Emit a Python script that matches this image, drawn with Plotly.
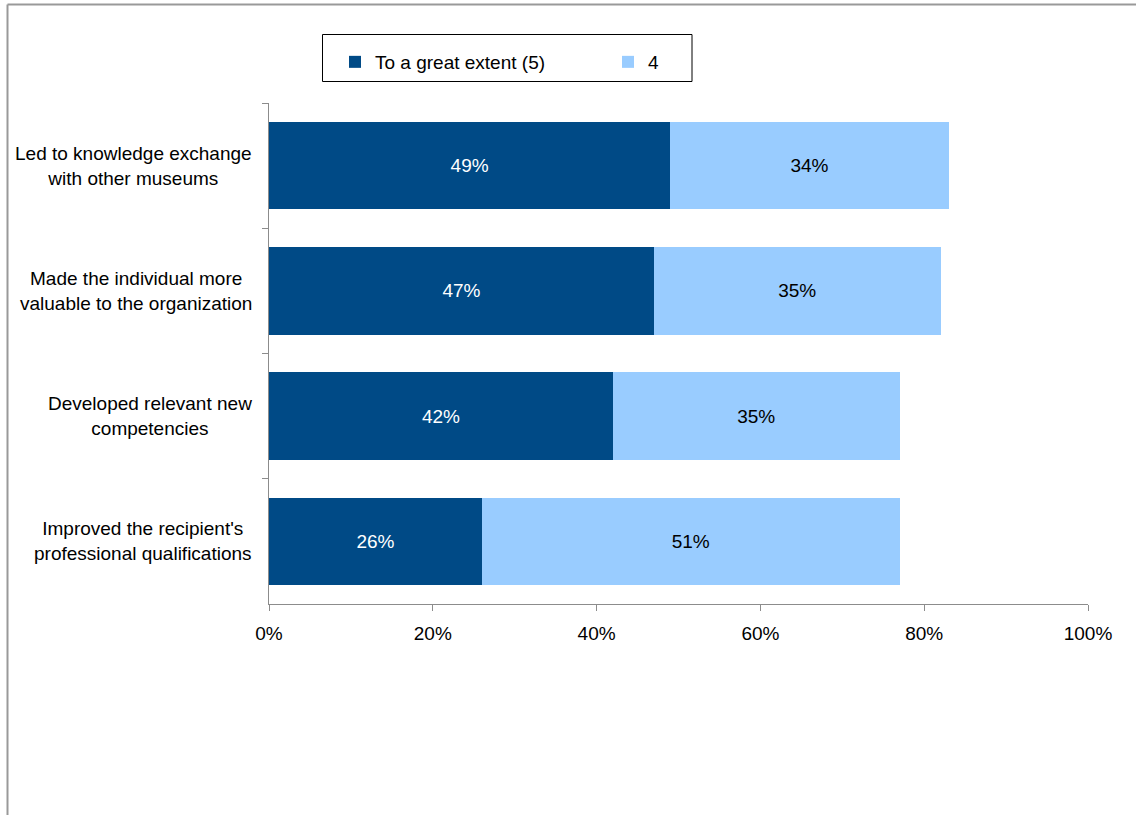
import plotly.graph_objects as go

# Survey items (top to bottom) and shares of respondents, in percent
categories = [
    "Led to knowledge exchange<br>with other museums",
    "Made the individual more<br>valuable to the organization",
    "Developed relevant new<br>competencies",
    "Improved the recipient's<br>professional qualifications",
]
great_extent = [49, 47, 42, 26]
level_four = [34, 35, 35, 51]
series_names = ["To a great extent (5)", "4"]
x_ticks = [0, 20, 40, 60, 80, 100]
x_tick_labels = ["0%", "20%", "40%", "60%", "80%", "100%"]

DARK = "#004A86"
LIGHT = "#99CCFF"
FONT = "Liberation Sans, Arial, sans-serif"

W, H = 1136, 815
L, R, T, B = 269, 48, 103, 211
PW, PH = W - L - R, H - T - B


def px_x(p):
    return (p - L) / PW


def px_y(p):
    return (H - B - p) / PH


fig = go.Figure()
fig.add_trace(go.Bar(
    y=categories, x=great_extent, orientation="h", name=series_names[0],
    marker=dict(color=DARK, line=dict(width=0)),
    text=[f"{v}%" for v in great_extent], textposition="inside",
    insidetextanchor="middle", textangle=0,
    textfont=dict(color="white", size=19, family=FONT),
))
fig.add_trace(go.Bar(
    y=categories, x=level_four, orientation="h", name=series_names[1],
    marker=dict(color=LIGHT, line=dict(width=0)),
    text=[f"{v}%" for v in level_four], textposition="inside",
    insidetextanchor="middle", textangle=0,
    textfont=dict(color="black", size=19, family=FONT),
))

# Category labels, centred line by line
annotations = [
    dict(x=px_x(254), y=c, xref="paper", yref="y", text=c, showarrow=False,
         xanchor="right", yanchor="middle", align="center",
         font=dict(size=19, family=FONT, color="black"))
    for c in categories
]

shapes = [
    # legend frame
    dict(type="rect", xref="paper", yref="paper",
         x0=px_x(322.5), x1=px_x(692), y0=px_y(81.5), y1=px_y(34.5),
         line=dict(color="black", width=1), fillcolor="rgba(0,0,0,0)"),
    # outer chart frame (top and left edges)
    dict(type="line", xref="paper", yref="paper",
         x0=px_x(7.5), x1=px_x(1140), y0=px_y(4.5), y1=px_y(4.5),
         line=dict(color="#999999", width=2)),
    dict(type="line", xref="paper", yref="paper",
         x0=px_x(7.5), x1=px_x(7.5), y0=px_y(4.5), y1=px_y(830),
         line=dict(color="#999999", width=2)),
]

fig.update_layout(
    width=W, height=H,
    margin=dict(l=L, r=R, t=T, b=B, pad=0),
    barmode="stack", bargap=0.3,
    plot_bgcolor="white", paper_bgcolor="white",
    font=dict(family=FONT, size=19, color="black"),
    showlegend=True,
    legend=dict(
        orientation="h", traceorder="normal",
        x=px_x(335), xanchor="left",
        y=px_y(62), yanchor="middle",
        entrywidth=228, entrywidthmode="pixels",
        bgcolor="rgba(0,0,0,0)", borderwidth=0,
        font=dict(size=19, family=FONT, color="black"),
    ),
    xaxis=dict(
        range=[0, 100], tickmode="array", tickvals=x_ticks, ticktext=x_tick_labels,
        showgrid=False, zeroline=False,
        showline=True, linecolor="#8C8C8C", linewidth=1,
        ticks="outside", ticklen=6, tickcolor="#8C8C8C",
        ticklabelstandoff=6,
        tickfont=dict(size=19, family=FONT, color="black"),
    ),
    yaxis=dict(
        type="category", categoryorder="array", categoryarray=categories,
        range=[3.5, -0.5], showticklabels=False,
        showgrid=False, zeroline=False,
        showline=True, linecolor="#8C8C8C", linewidth=1,
        ticks="outside", ticklen=6, tickcolor="#8C8C8C", tickson="boundaries",
    ),
    annotations=annotations,
    shapes=shapes,
)

fig.write_html("out.html")
